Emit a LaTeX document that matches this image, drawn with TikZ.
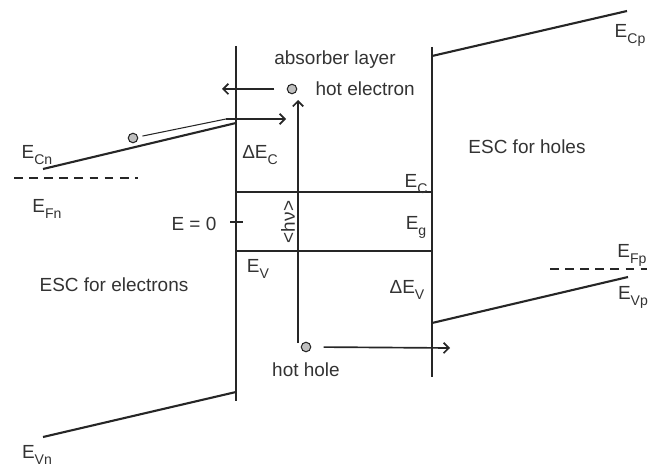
\documentclass[tikz,border=0pt]{standalone}
\usepackage{fontspec}
\setmainfont{Liberation Sans}
\usetikzlibrary{arrows.meta,positioning}
\definecolor{inkgray}{HTML}{262626}
\definecolor{txtgray}{HTML}{333333}
\newcommand{\lowsub}[1]{\raisebox{-0.6ex}{\fontsize{8}{9}\selectfont #1}}

\begin{document}
\begin{tikzpicture}[x=0.02cm, y=-0.02cm,
  band/.style={line width=1.2pt, draw=inkgray},
  guide/.style={line width=0.6pt, draw=inkgray},
  fermi/.style={line width=1.1pt, draw=inkgray, dash pattern=on 5pt off 3.6pt},
  flow/.style={line width=0.95pt, draw=inkgray, -{Straight Barb[length=3pt,width=6pt]}},
  lbl/.style={font=\fontsize{10.8}{13}\selectfont, text=txtgray, inner sep=0pt},
  carrier/.style={circle, draw=inkgray, fill=gray!50, line width=0.6pt, minimum size=0.19cm, inner sep=0pt},
]
\useasboundingbox (0,0) rectangle (658,465);

% --- absorber layer ---
\coordinate (absTL) at (236,46);
\coordinate (absBL) at (236,401);
\coordinate (absTR) at (432,47);
\coordinate (absBR) at (432,377);
\coordinate (ecL) at (236,192);
\coordinate (ecR) at (432,192);
\coordinate (evL) at (236,251);
\coordinate (evR) at (432,251);
\coordinate (zeroA) at (230,222);
\coordinate (zeroB) at (243,222);
\draw[band] (absTL) -- (absBL);
\draw[band] (absTR) -- (absBR);
\draw[band] (ecL) -- (ecR);
\draw[band] (evL) -- (evR);
\draw[band] (zeroA) -- (zeroB);

% --- ESC for electrons ---
\coordinate (ecnA) at (43,169);
\coordinate (ecnB) at (236,123);
\coordinate (efnA) at (14,178);
\coordinate (efnB) at (138,178);
\coordinate (evnA) at (43,437);
\coordinate (evnB) at (236,392);
\draw[band] (ecnA) -- (ecnB);
\draw[fermi] (efnA) -- (efnB);
\draw[band] (evnA) -- (evnB);

% --- ESC for holes ---
\coordinate (ecpA) at (432,56);
\coordinate (ecpB) at (627,11);
\coordinate (efpA) at (550,269);
\coordinate (efpB) at (647,269);
\coordinate (evpA) at (432,323);
\coordinate (evpB) at (628,277);
\draw[band] (ecpA) -- (ecpB);
\draw[fermi] (efpA) -- (efpB);
\draw[band] (evpA) -- (evpB);

% --- carriers and transitions ---
\node[carrier] (ecn) at (133,138) {};
\node[carrier] (hotel) at (292,89) {};
\node[carrier] (hothole) at (306,347) {};
\coordinate (jump) at (226,119);
\coordinate (jumpEnd) at (286,119);
\coordinate (exitL) at (222,89);
\coordinate (hvBot) at (298,343);
\coordinate (hvTop) at (298,100);
\coordinate (exitR) at (450,348);
\draw[guide, shorten <=2.5pt] (ecn) -- (jump);
\draw[flow] (jump) -- (jumpEnd);
\draw[flow, shorten <=7pt] (hotel.west) -- (exitL);
\draw[flow] (hvBot) -- (hvTop);
\draw[flow, shorten <=7pt] (hothole.east) -- (exitR);

% --- labels ---
\node[lbl] (absLbl) at (335,60) {absorber layer};
\node[lbl, right=0.36cm of hotel] (hotelLbl) {hot electron};
\node[lbl, below=0.2cm of hothole] (holeLbl) {hot hole};
\node[lbl] (dEc) at (260,155) {ΔE\lowsub{C}};
\node[lbl] (ecLbl) at (416,184) {E\lowsub{C}};
\node[lbl] (egLbl) at (416,227) {E\lowsub{g}};
\node[lbl] (evLbl) at (258,269) {E\lowsub{V}};
\node[lbl] (dEv) at (407,290) {ΔE\lowsub{V}};
\node[lbl] (zeroLbl) at (194,224) {E = 0};
\node[lbl, rotate=90] (hvLbl) at (288,222) {<hν>};
\node[lbl] (ecnLbl) at (37,155) {E\lowsub{Cn}};
\node[lbl] (efnLbl) at (47,209) {E\lowsub{Fn}};
\node[lbl] (escE) at (114,285) {ESC for electrons};
\node[lbl] (escH) at (527,147) {ESC for holes};
\node[lbl] (ecpLbl) at (630,35) {E\lowsub{Cp}};
\node[lbl] (efpLbl) at (632,255) {E\lowsub{Fp}};
\node[lbl] (evpLbl) at (633,297) {E\lowsub{Vp}};
\node[lbl] (evnLbl) at (37,455) {E\lowsub{Vn}};
\end{tikzpicture}
\end{document}
